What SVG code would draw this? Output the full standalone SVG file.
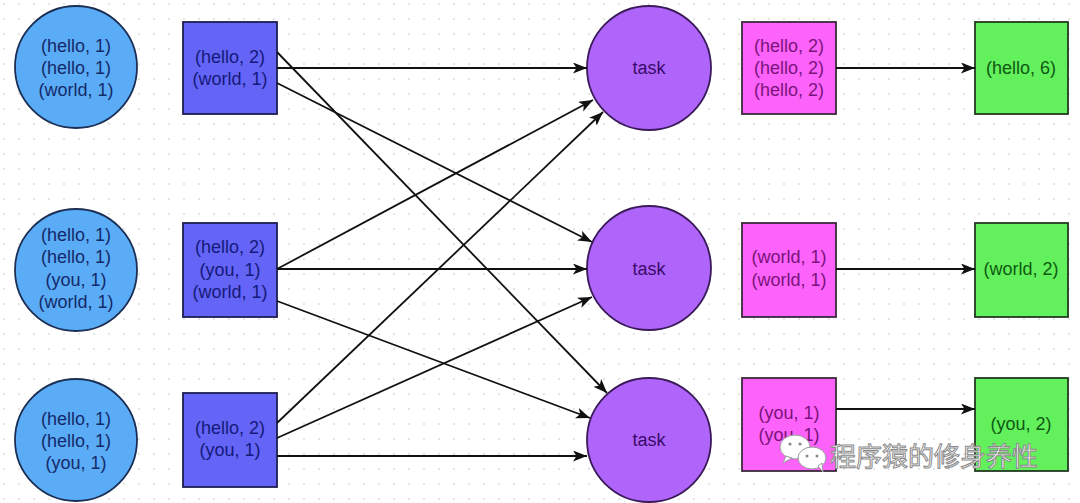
<svg xmlns="http://www.w3.org/2000/svg" width="1080" height="503" viewBox="0 0 1080 503">
<defs>
<pattern id="grid" width="15" height="15" patternUnits="userSpaceOnUse" x="3" y="3">
<circle cx="1" cy="1" r="0.9" fill="#d9d9d9"/>
</pattern>
<marker id="arr" markerUnits="userSpaceOnUse" markerWidth="15" markerHeight="12" refX="14" refY="5.5" orient="auto">
<path d="M0,0 L14,5.5 L0,11 L3.5,5.5 z" fill="#111"/>
</marker>
</defs>
<style>
text{font-family:"Liberation Sans",Arial,sans-serif;font-size:18px;text-anchor:middle}
.src{fill:#5aacf7;stroke:#1b2f55;stroke-width:1.8}
.map{fill:#6464f7;stroke:#1d1d4f;stroke-width:1.8}
.task{fill:#b065fa;stroke:#3a1a5a;stroke-width:1.8}
.red{fill:#fd62fb;stroke:#3a2a3a;stroke-width:1.8}
.out{fill:#62f05c;stroke:#233a23;stroke-width:1.8}
.ts{fill:#142a6a}
.tm{fill:#141a7a}
.tt{fill:#3a0a6a}
.tr{fill:#7a147a}
.to{fill:#0f5a12}
#connectors line{stroke:#111;stroke-width:1.8;marker-end:url(#arr)}
.wm{font-family:"Noto Sans CJK SC","Noto Sans",sans-serif;font-size:26px;fill:#ffffff;stroke:#8a8a8a;stroke-width:1;text-anchor:start}
</style>
<rect width="1080" height="503" fill="#ffffff"/>
<rect width="1080" height="503" fill="url(#grid)"/>

<g id="src1"><circle class="src" cx="76" cy="67" r="61"/>
<text class="ts" x="76" y="52">(hello, 1)</text><text class="ts" x="76" y="74">(hello, 1)</text><text class="ts" x="76" y="96">(world, 1)</text></g>
<g id="src2"><circle class="src" cx="76" cy="270" r="61"/>
<text class="ts" x="76" y="241">(hello, 1)</text><text class="ts" x="76" y="263">(hello, 1)</text><text class="ts" x="76" y="286">(you, 1)</text><text class="ts" x="76" y="308">(world, 1)</text></g>
<g id="src3"><circle class="src" cx="76" cy="440" r="61"/>
<text class="ts" x="76" y="425">(hello, 1)</text><text class="ts" x="76" y="447">(hello, 1)</text><text class="ts" x="76" y="469">(you, 1)</text></g>

<g id="map1"><rect class="map" x="183" y="22" width="94" height="92"/>
<text class="tm" x="230" y="63">(hello, 2)</text><text class="tm" x="230" y="85">(world, 1)</text></g>
<g id="map2"><rect class="map" x="183" y="223" width="94" height="94"/>
<text class="tm" x="230" y="253">(hello, 2)</text><text class="tm" x="230" y="276">(you, 1)</text><text class="tm" x="230" y="298">(world, 1)</text></g>
<g id="map3"><rect class="map" x="183" y="393" width="94" height="94"/>
<text class="tm" x="230" y="434">(hello, 2)</text><text class="tm" x="230" y="456">(you, 1)</text></g>

<g id="task1"><circle class="task" cx="649" cy="68" r="62"/><text class="tt" x="649" y="74">task</text></g>
<g id="task2"><circle class="task" cx="649" cy="268" r="62"/><text class="tt" x="649" y="275">task</text></g>
<g id="task3"><circle class="task" cx="649" cy="440" r="62"/><text class="tt" x="649" y="446">task</text></g>

<g id="red1"><rect class="red" x="742" y="22" width="94" height="92"/>
<text class="tr" x="789" y="52">(hello, 2)</text><text class="tr" x="789" y="74">(hello, 2)</text><text class="tr" x="789" y="96">(hello, 2)</text></g>
<g id="red2"><rect class="red" x="742" y="223" width="94" height="94"/>
<text class="tr" x="789" y="263">(world, 1)</text><text class="tr" x="789" y="286">(world, 1)</text></g>
<g id="red3"><rect class="red" x="742" y="378" width="94" height="93"/>
<text class="tr" x="789" y="419">(you, 1)</text><text class="tr" x="789" y="441">(you, 1)</text></g>

<g id="out1"><rect class="out" x="975" y="22" width="93" height="92"/><text class="to" x="1021" y="74">(hello, 6)</text></g>
<g id="out2"><rect class="out" x="975" y="223" width="93" height="94"/><text class="to" x="1021" y="275">(world, 2)</text></g>
<g id="out3"><rect class="out" x="975" y="378" width="93" height="93"/><text class="to" x="1021" y="430">(you, 2)</text></g>

<g id="connectors">
<line x1="277" y1="52" x2="607" y2="393"/>
<line x1="277" y1="68" x2="587" y2="68"/>
<line x1="277" y1="83" x2="592" y2="242"/>
<line x1="277" y1="269" x2="593" y2="100"/>
<line x1="277" y1="269" x2="587" y2="269"/>
<line x1="277" y1="301" x2="590" y2="418"/>
<line x1="277" y1="423" x2="603" y2="112"/>
<line x1="277" y1="438" x2="592" y2="297"/>
<line x1="277" y1="456" x2="587" y2="456"/>
<line x1="836" y1="68" x2="975" y2="68"/>
<line x1="836" y1="269" x2="975" y2="269"/>
<line x1="836" y1="409" x2="975" y2="409"/>
</g>

<g id="watermark">
<ellipse cx="795" cy="447" rx="15" ry="12" fill="#ffffff" stroke="#9a9a9a" stroke-width="1"/>
<path d="M786,456 L783,463 L792,458 z" fill="#ffffff" stroke="#9a9a9a" stroke-width="1"/>
<circle cx="790" cy="444" r="1.6" fill="#8a8a8a"/><circle cx="800" cy="444" r="1.6" fill="#8a8a8a"/>
<ellipse cx="812" cy="458" rx="14" ry="11" fill="#ffffff" stroke="#9a9a9a" stroke-width="1"/>
<path d="M818,466 L823,472 L822,463 z" fill="#ffffff" stroke="#9a9a9a" stroke-width="1"/>
<circle cx="807" cy="456" r="1.5" fill="#8a8a8a"/><circle cx="817" cy="456" r="1.5" fill="#8a8a8a"/>
<text class="wm" x="830" y="466">程序猿的修身养性</text>
</g>
</svg>
